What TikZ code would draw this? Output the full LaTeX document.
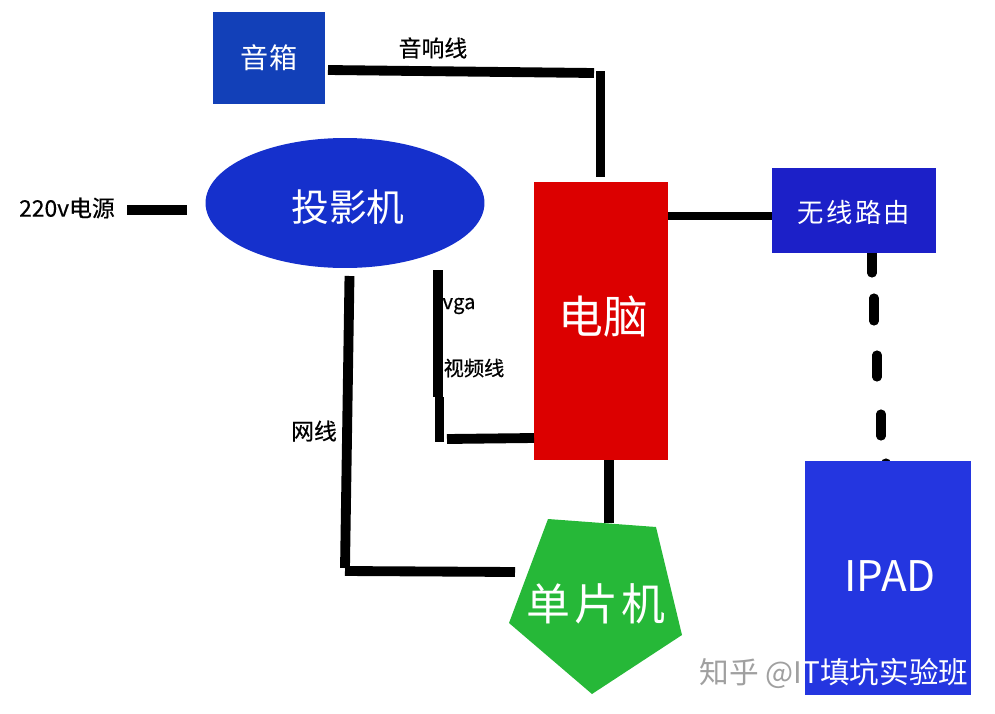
\documentclass[tikz,border=0pt]{standalone}
\usepackage{fontspec}
\setmainfont{Noto Sans CJK SC}
\newfontfamily\wide[LetterSpace=9]{Noto Sans CJK SC}
\newfontfamily\heavy[FakeBold=0.5]{Noto Sans CJK SC}
\usetikzlibrary{positioning,calc,shapes.geometric}
\definecolor{boxblue}{HTML}{1240B8}
\definecolor{ovalblue}{HTML}{1530CC}
\definecolor{routerblue}{HTML}{1C20C8}
\definecolor{padblue}{HTML}{2436E0}
\definecolor{pcred}{HTML}{DC0000}
\definecolor{mcugreen}{HTML}{26B838}
\definecolor{markgray}{HTML}{A0A0A0}
\begin{document}
\begin{tikzpicture}[x=0.02cm, y=-0.02cm,
      box/.style={rectangle,inner sep=0pt,text=white},
      linetag/.style={inner sep=0pt,text=black,font=\heavy\fontsize{13}{15}\selectfont},
      smalltag/.style={inner sep=0pt,text=black,font=\heavy\fontsize{11.5}{14}\selectfont},
      boxtext/.style={inner sep=0pt,text=white},
      wire/.style={line width=5.6pt,black},
      wifi/.style={line width=5.2pt,black,line cap=round}]
      \useasboundingbox (0,0) rectangle (995,714);
      \coordinate (w1) at (872,248);
      \coordinate (w2) at (872,273);
      \coordinate (w9) at (886,463);
      \coordinate (w10) at (886,466);
      \draw[wifi] (w1) -- (w2);
      \draw[wifi] (w9) -- (w10);
      \node[box,fill=boxblue,minimum width=2.24cm,minimum height=1.84cm,font=\fontsize{16}{18}\selectfont] at (269,58) (sound) {音箱};
      \node[ellipse,inner sep=0pt,fill=ovalblue,minimum width=5.58cm,minimum height=2.6cm] at (345,203) (proj) {};
      \node[boxtext,font=\fontsize{21.5}{24}\selectfont] at (348,207) (projname) {投影机};
      \node[box,fill=pcred,minimum width=2.68cm,minimum height=5.56cm] at (601,321) (pc) {};
      \node[boxtext,font=\fontsize{25.5}{28}\selectfont] at (603,317) (pcname) {电脑};
      \node[box,fill=routerblue,minimum width=3.28cm,minimum height=1.7cm] at (854,210.5) (router) {};
      \node[boxtext,font=\wide\fontsize{15}{18}\selectfont] at (854,212) (routername) {无线路由};
      \node[box,fill=padblue,minimum width=3.32cm,minimum height=4.68cm] at (888,578) (pad) {};
      \node[boxtext,font=\fontsize{24}{27}\selectfont] at (890,576) (padname) {IPAD};
      \coordinate (m1) at (548,519);
      \coordinate (m2) at (656,527);
      \coordinate (m3) at (682,635);
      \coordinate (m4) at (592,694);
      \coordinate (m5) at (509,623);
      \fill[mcugreen] (m1) -- (m2) -- (m3) -- (m4) -- (m5) -- cycle;
      \node[boxtext,font=\wide\fontsize{25}{28}\selectfont] at (596,604) (mcu) {单片机};
      \coordinate (s1) at (328,70);
      \coordinate (s2) at (594,73);
      \coordinate (s3) at (600.5,71);
      \coordinate (s4) at (600.5,177);
      \draw[wire] (s1) -- (s2);
      \draw[wire] (s3) -- (s4);
      \coordinate (p1) at (127,210);
      \coordinate (p2) at (187,210);
      \draw[wire] (p1) -- (p2);
      \coordinate (n1) at (349.5,276);
      \coordinate (n2) at (345,568);
      \coordinate (n3) at (345,571);
      \coordinate (n4) at (515,572);
      \draw[wire] (n1) -- (n2);
      \draw[wire] (n3) -- (n4);
      \coordinate (v1) at (438,270);
      \coordinate (v2) at (438,397);
      \coordinate (v3) at (439.5,397);
      \coordinate (v4) at (439.5,442);
      \coordinate (v5) at (447,439);
      \coordinate (v6) at (534,438);
      \draw[wire] (v1) -- (v2);
      \draw[wire] (v3) -- (v4);
      \draw[wire] (v5) -- (v6);
      \coordinate (t1) at (668,216);
      \coordinate (t2) at (772,216);
      \draw[wire,line width=5pt] (t1) -- (t2);
      \coordinate (u1) at (609,460);
      \coordinate (u2) at (609,523);
      \draw[wire] (u1) -- (u2);
      \coordinate (w3) at (874,298);
      \coordinate (w4) at (874,321);
      \coordinate (w5) at (877,355);
      \coordinate (w6) at (877,377);
      \coordinate (w7) at (881,414);
      \coordinate (w8) at (881,436);
      \draw[wifi] (w3) -- (w4);
      \draw[wifi] (w5) -- (w6);
      \draw[wifi] (w7) -- (w8);
      \node[linetag] at (433,48) (soundtag) {音响线};
      \node[linetag] at (67,208) (powertag) {220v电源};
      \node[smalltag] at (459,306) (vgatag) {vga};
      \node[smalltag] at (474,368) (videotag) {视频线};
      \node[linetag] at (314,431) (nettag) {网线};
      \node[inner sep=0pt,font=\fontsize{16.9}{19}\selectfont] at (834,673) (mark) {\textcolor{markgray}{知乎 @I}\textcolor{white}{T填坑实验班}};
    \end{tikzpicture}
\end{document}
